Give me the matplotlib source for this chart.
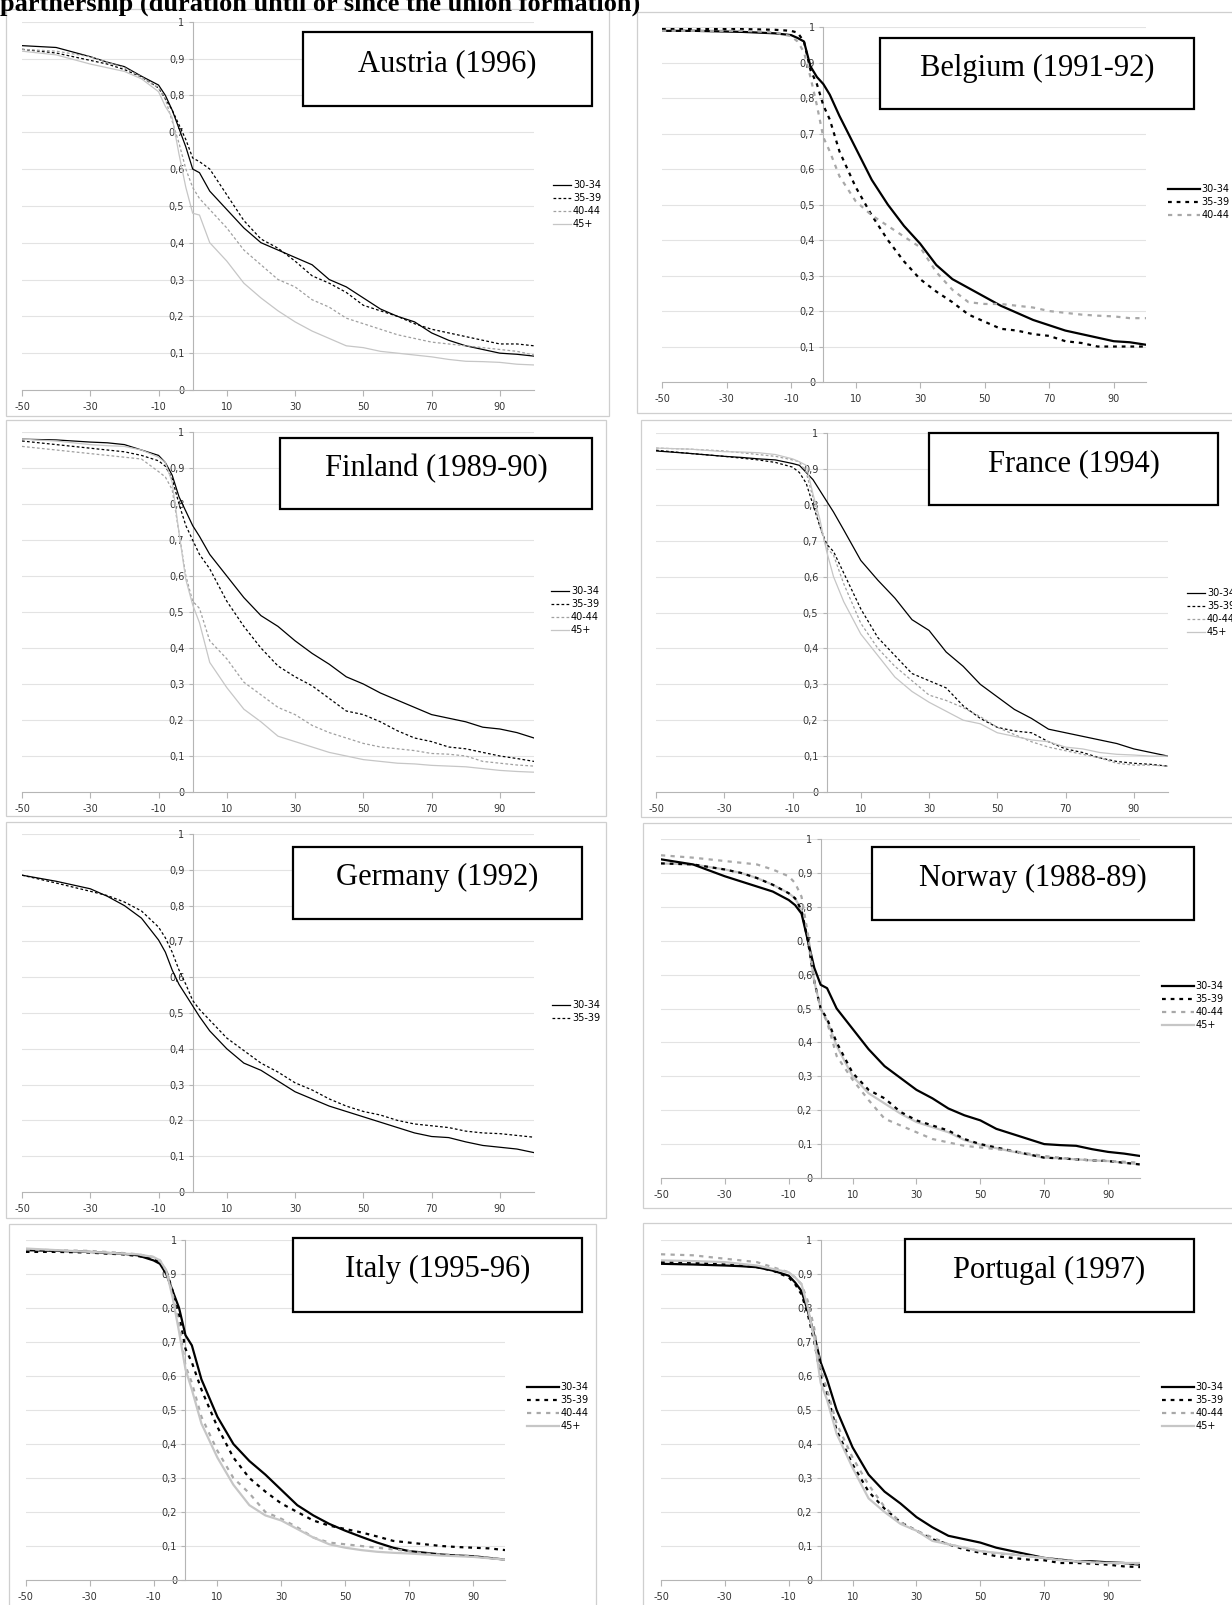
import matplotlib
matplotlib.use("Agg")
import matplotlib.pyplot as plt
from matplotlib.patches import Rectangle

W, H = 1232, 1605

# durations (years before/after union formation) shared by every curve
X = [-50, -40, -30, -25, -20, -15, -10, -8, -6, -4, -2, 0, 2, 5, 10, 15, 20, 25,
     30, 35, 40, 45, 50, 55, 60, 65, 70, 75, 80, 85, 90, 95, 100]

AGE_GROUPS = ["30-34", "35-39", "40-44", "45+"]

at_30_34 = [.935, .93, .905, .89, .878, .852, .828, .80, .76, .71, .66, .60, .59, .54, .49, .44, .40, .38,
            .36, .34, .30, .28, .25, .22, .20, .185, .155, .135, .12, .11, .10, .097, .092]
at_35_39 = [.925, .915, .895, .885, .87, .85, .82, .79, .76, .72, .68, .63, .62, .60, .53, .46, .41, .385,
            .35, .31, .29, .265, .23, .215, .20, .18, .165, .155, .145, .135, .125, .125, .12]
at_40_44 = [.925, .92, .905, .89, .875, .85, .82, .79, .73, .67, .60, .55, .52, .49, .44, .38, .34, .30,
            .28, .245, .225, .195, .18, .165, .15, .14, .13, .125, .12, .115, .11, .105, .095]
at_45 = [.92, .91, .885, .875, .865, .845, .81, .77, .74, .64, .55, .48, .475, .40, .35, .29, .25, .215,
         .185, .16, .14, .12, .115, .105, .10, .095, .09, .083, .078, .077, .075, .07, .068]

be_30_34 = [.99, .99, .988, .987, .985, .983, .978, .97, .96, .89, .86, .84, .81, .75, .66, .57, .50, .44,
            .39, .33, .29, .265, .24, .215, .195, .175, .16, .145, .135, .125, .115, .112, .105]
be_35_39 = [.995, .995, .995, .995, .994, .993, .99, .985, .96, .88, .84, .78, .74, .65, .55, .47, .40, .34,
            .29, .255, .225, .19, .17, .15, .145, .135, .13, .115, .11, .10, .10, .10, .10]
be_40_44 = [.99, .99, .99, .99, .988, .985, .975, .96, .93, .86, .78, .69, .65, .58, .51, .47, .44, .41,
            .38, .31, .26, .225, .22, .22, .215, .21, .20, .195, .19, .187, .185, .18, .18]

fi_30_34 = [.98, .978, .972, .97, .965, .95, .935, .915, .88, .82, .78, .74, .71, .66, .60, .54, .49, .46,
            .42, .385, .355, .32, .30, .275, .255, .235, .215, .205, .195, .18, .175, .165, .15]
fi_35_39 = [.975, .965, .955, .95, .945, .935, .92, .905, .87, .80, .74, .70, .66, .62, .53, .46, .40, .35,
            .32, .295, .26, .225, .215, .195, .17, .15, .14, .125, .12, .11, .10, .093, .085]
fi_40_44 = [.96, .95, .94, .935, .93, .925, .89, .875, .84, .72, .60, .53, .51, .42, .37, .305, .27, .235,
            .215, .185, .165, .15, .135, .125, .12, .115, .107, .105, .10, .085, .08, .075, .072]
fi_45 = [.98, .975, .965, .962, .96, .95, .93, .915, .86, .72, .59, .52, .47, .36, .29, .23, .195, .155,
         .14, .125, .11, .10, .09, .085, .08, .078, .074, .072, .07, .065, .06, .057, .055]

fr_30_34 = [.95, .943, .935, .932, .928, .925, .915, .91, .89, .87, .84, .81, .78, .73, .645, .59, .54, .48,
            .45, .39, .35, .30, .265, .23, .205, .175, .165, .155, .145, .135, .12, .11, .10]
fr_35_39 = [.952, .943, .935, .93, .925, .918, .905, .89, .86, .80, .74, .69, .67, .61, .51, .43, .38, .33,
            .31, .29, .24, .205, .18, .17, .165, .14, .12, .11, .095, .085, .08, .077, .072]
fr_40_44 = [.958, .955, .95, .945, .94, .935, .925, .92, .89, .82, .74, .68, .66, .58, .47, .40, .35, .31,
            .27, .255, .235, .21, .18, .16, .14, .125, .115, .105, .095, .08, .075, .075, .072]
fr_45 = [.958, .955, .948, .947, .945, .94, .928, .92, .91, .83, .76, .67, .60, .53, .44, .38, .32, .28,
         .25, .225, .20, .19, .165, .155, .145, .14, .125, .12, .11, .105, .103, .10, .10]

de_30_34 = [.885, .868, .847, .826, .80, .765, .704, .67, .62, .58, .55, .52, .49, .45, .40, .36, .34, .31,
            .28, .26, .24, .225, .21, .195, .18, .165, .155, .152, .14, .13, .125, .12, .11]
de_35_39 = [.885, .863, .84, .828, .81, .785, .74, .71, .67, .62, .58, .535, .51, .48, .43, .395, .36, .335,
            .305, .285, .26, .24, .225, .215, .20, .19, .185, .18, .17, .165, .163, .158, .153]

no_30_34 = [.94, .925, .89, .875, .86, .845, .82, .805, .78, .70, .62, .57, .56, .50, .44, .38, .33, .295,
            .26, .235, .205, .185, .17, .145, .13, .115, .10, .097, .095, .085, .077, .072, .065]
no_35_39 = [.928, .925, .91, .90, .885, .865, .84, .825, .79, .70, .58, .50, .47, .40, .31, .26, .235, .195,
            .17, .155, .14, .115, .10, .09, .08, .07, .06, .058, .055, .052, .05, .045, .04]
no_40_44 = [.952, .945, .935, .93, .925, .91, .89, .87, .83, .72, .58, .50, .46, .36, .29, .23, .175, .155,
            .135, .115, .105, .095, .09, .085, .08, .072, .065, .06, .055, .052, .05, .048, .045]
no_45 = [.928, .925, .91, .90, .885, .865, .84, .825, .79, .70, .58, .50, .465, .39, .30, .25, .22, .19,
         .165, .15, .135, .112, .098, .088, .078, .069, .06, .058, .055, .052, .05, .045, .04]

it_30_34 = [.97, .968, .965, .962, .96, .955, .94, .93, .90, .85, .80, .72, .69, .59, .48, .40, .35, .31,
            .265, .22, .19, .165, .145, .127, .11, .095, .085, .08, .075, .072, .07, .065, .06]
it_35_39 = [.965, .965, .963, .96, .958, .953, .945, .935, .91, .85, .78, .68, .64, .56, .45, .36, .30, .26,
            .225, .20, .175, .16, .15, .14, .128, .115, .11, .105, .10, .097, .095, .093, .088]
it_40_44 = [.972, .97, .968, .965, .962, .958, .95, .94, .91, .84, .75, .63, .58, .48, .38, .30, .255, .20,
            .18, .155, .125, .11, .105, .10, .095, .09, .085, .078, .075, .072, .07, .065, .06]
it_45 = [.975, .97, .965, .963, .96, .958, .95, .94, .91, .83, .73, .62, .56, .46, .36, .28, .22, .19,
         .175, .15, .125, .105, .095, .088, .083, .08, .078, .075, .072, .07, .068, .064, .06]

pt_30_34 = [.93, .928, .925, .923, .92, .91, .895, .875, .85, .79, .72, .64, .59, .50, .39, .31, .26, .225,
            .185, .155, .13, .12, .11, .095, .085, .075, .065, .06, .055, .055, .052, .05, .045]
pt_35_39 = [.935, .933, .928, .925, .92, .91, .89, .87, .84, .78, .70, .60, .55, .44, .34, .26, .21, .17,
            .145, .12, .105, .09, .08, .07, .065, .06, .058, .05, .05, .048, .045, .04, .038]
pt_40_44 = [.958, .955, .945, .94, .935, .92, .905, .89, .87, .82, .74, .62, .56, .46, .36, .28, .215, .17,
            .145, .125, .105, .095, .085, .078, .075, .07, .065, .06, .055, .052, .05, .048, .048]
pt_45 = [.94, .938, .935, .93, .925, .915, .905, .89, .87, .80, .71, .58, .53, .43, .33, .24, .20, .165,
         .145, .115, .105, .095, .085, .08, .075, .07, .065, .058, .055, .052, .05, .05, .05]

X_TICKS = [-50, -30, -10, 10, 30, 50, 70, 90]
Y_TICKS = [0, .1, .2, .3, .4, .5, .6, .7, .8, .9, 1]
Y_LABELS = ["0", "0,1", "0,2", "0,3", "0,4", "0,5", "0,6", "0,7", "0,8", "0,9", "1"]

# line styles: thin ones for the first batch of charts, heavier ones for the rest
THIN = [dict(color="black", lw=0.9, ls="-"),
        dict(color="black", lw=0.9, ls=(0, (2.2, 1.8))),
        dict(color="#a0a0a0", lw=0.9, ls=(0, (2.2, 1.8))),
        dict(color="#c6c6c6", lw=0.9, ls="-")]
THICK = [dict(color="black", lw=1.6, ls="-"),
         dict(color="black", lw=1.6, ls=(0, (1.7, 2.2))),
         dict(color="#a8a8a8", lw=1.6, ls=(0, (1.9, 2.4))),
         dict(color="#c6c6c6", lw=1.6, ls="-")]

# name, plot area (l, t, r, b), frame, title box, legend anchor (x, y), style, series, back series -- px
panels = [
    ("Austria (1996)", (22, 21.7, 534, 390), (6, 9, 609, 416), (303, 32, 592, 106), (553, 180), THIN,
     [at_30_34, at_35_39, at_40_44, at_45], None),
    ("Belgium (1991-92)", (662, 27.3, 1146, 382), (637, 12, 1240, 413), (880, 38, 1194, 109), (1168, 184), THICK,
     [be_30_34, be_35_39, be_40_44], None),
    ("Finland (1989-90)", (22, 432, 534, 792), (6, 420, 606, 816), (280, 438, 592, 509), (551, 586), THIN,
     [fi_30_34, fi_35_39, fi_40_44, fi_45], None),
    ("France (1994)", (656, 433, 1168, 792), (641, 420, 1240, 817), (929, 433, 1218, 505), (1187, 588), THIN,
     [fr_30_34, fr_35_39, fr_40_44, fr_45], None),
    ("Germany (1992)", (22, 834, 534, 1192), (6, 822, 606, 1218), (293, 847, 582, 919), (552, 1000), THIN,
     [de_30_34, de_35_39], None),
    ("Norway (1988-89)", (661, 839, 1140, 1178), (643, 823, 1240, 1208), (872, 847, 1194, 920), (1162, 981), THICK,
     [no_30_34, no_35_39, no_40_44, no_45], 3),
    ("Italy (1995-96)", (25.7, 1240, 505, 1580), (9, 1224, 596, 1620), (293, 1238, 582, 1312), (527, 1382), THICK,
     [it_30_34, it_35_39, it_40_44, it_45], None),
    ("Portugal (1997)", (661, 1240, 1140, 1580), (643, 1223, 1240, 1620), (905, 1239, 1194, 1312), (1162, 1382), THICK,
     [pt_30_34, pt_35_39, pt_40_44, pt_45], None),
]


def fx(px):
    return px / W


def fy(py):
    return 1 - py / H


fig = plt.figure(figsize=(W / 100, H / 100), dpi=100)
fig.patch.set_facecolor("white")

# page heading, running off the top edge of the page
fig.text(fx(0), fy(11), "partnership (duration until or since the union formation)",
         fontsize=19, fontweight="bold", family="Liberation Serif", va="baseline", ha="left")

for title, plot_box, frame, tbox, leg_xy, styles, series, back in panels:
    # outer chart frame
    x0, y0, x1, y1 = frame
    fig.add_artist(Rectangle((fx(x0), fy(y1)), fx(x1 - x0), (y1 - y0) / H, transform=fig.transFigure,
                             facecolor="white", edgecolor="#cfcfcf", lw=0.9, zorder=0))

    l, t, r, b = plot_box
    ax = fig.add_axes([fx(l), fy(b), fx(r - l), (b - t) / H])
    ax.set_facecolor("none")
    ax.set_xlim(-50, 100)
    ax.set_ylim(0, 1)

    for yv in Y_TICKS[1:]:
        ax.axhline(yv, color="#e3e3e3", lw=0.8, zorder=0)

    handles = []
    for i, (vals, st, lab) in enumerate(zip(series, styles, AGE_GROUPS)):
        z = 2 if i == back else 3
        ln, = ax.plot(X, vals, color=st["color"], lw=st["lw"], linestyle=st["ls"], label=lab, zorder=z)
        handles.append(ln)

    for side in ("top", "right"):
        ax.spines[side].set_visible(False)
    ax.spines["left"].set_position(("data", 0))
    ax.spines["left"].set_color("#b5b5b5")
    ax.spines["bottom"].set_color("#b5b5b5")
    ax.spines["left"].set_zorder(1)

    ax.set_xticks(X_TICKS)
    ax.set_xticklabels([str(v) for v in X_TICKS])
    ax.set_yticks(Y_TICKS)
    ax.set_yticklabels(Y_LABELS)
    ax.tick_params(axis="x", length=4, width=0.8, color="#b5b5b5", pad=5, labelsize=7, labelcolor="#333333")
    ax.tick_params(axis="y", length=3, width=0.8, color="#b5b5b5", pad=3, labelsize=7, labelcolor="#333333")
    for lbl in ax.get_xticklabels() + ax.get_yticklabels():
        lbl.set_family("DejaVu Sans")

    handle_len = 1.9 if styles is THIN else 3.3
    ax.legend(handles=handles, loc="upper left", bbox_to_anchor=(fx(leg_xy[0]), fy(leg_xy[1])),
              bbox_transform=fig.transFigure, frameon=False, fontsize=7, handlelength=handle_len,
              handletextpad=0.15, labelspacing=0.32, borderpad=0, borderaxespad=0)

    # country / survey label box
    bx0, by0, bx1, by1 = tbox
    fig.add_artist(Rectangle((fx(bx0), fy(by1)), fx(bx1 - bx0), (by1 - by0) / H, transform=fig.transFigure,
                             facecolor="white", edgecolor="black", lw=1.6, zorder=5))
    fig.text(fx((bx0 + bx1) / 2), fy(by0 + 0.43 * (by1 - by0)), title, fontsize=22,
             family="Liberation Serif", ha="center", va="center", zorder=6)

fig.savefig("out.png", dpi=100, facecolor="white")
